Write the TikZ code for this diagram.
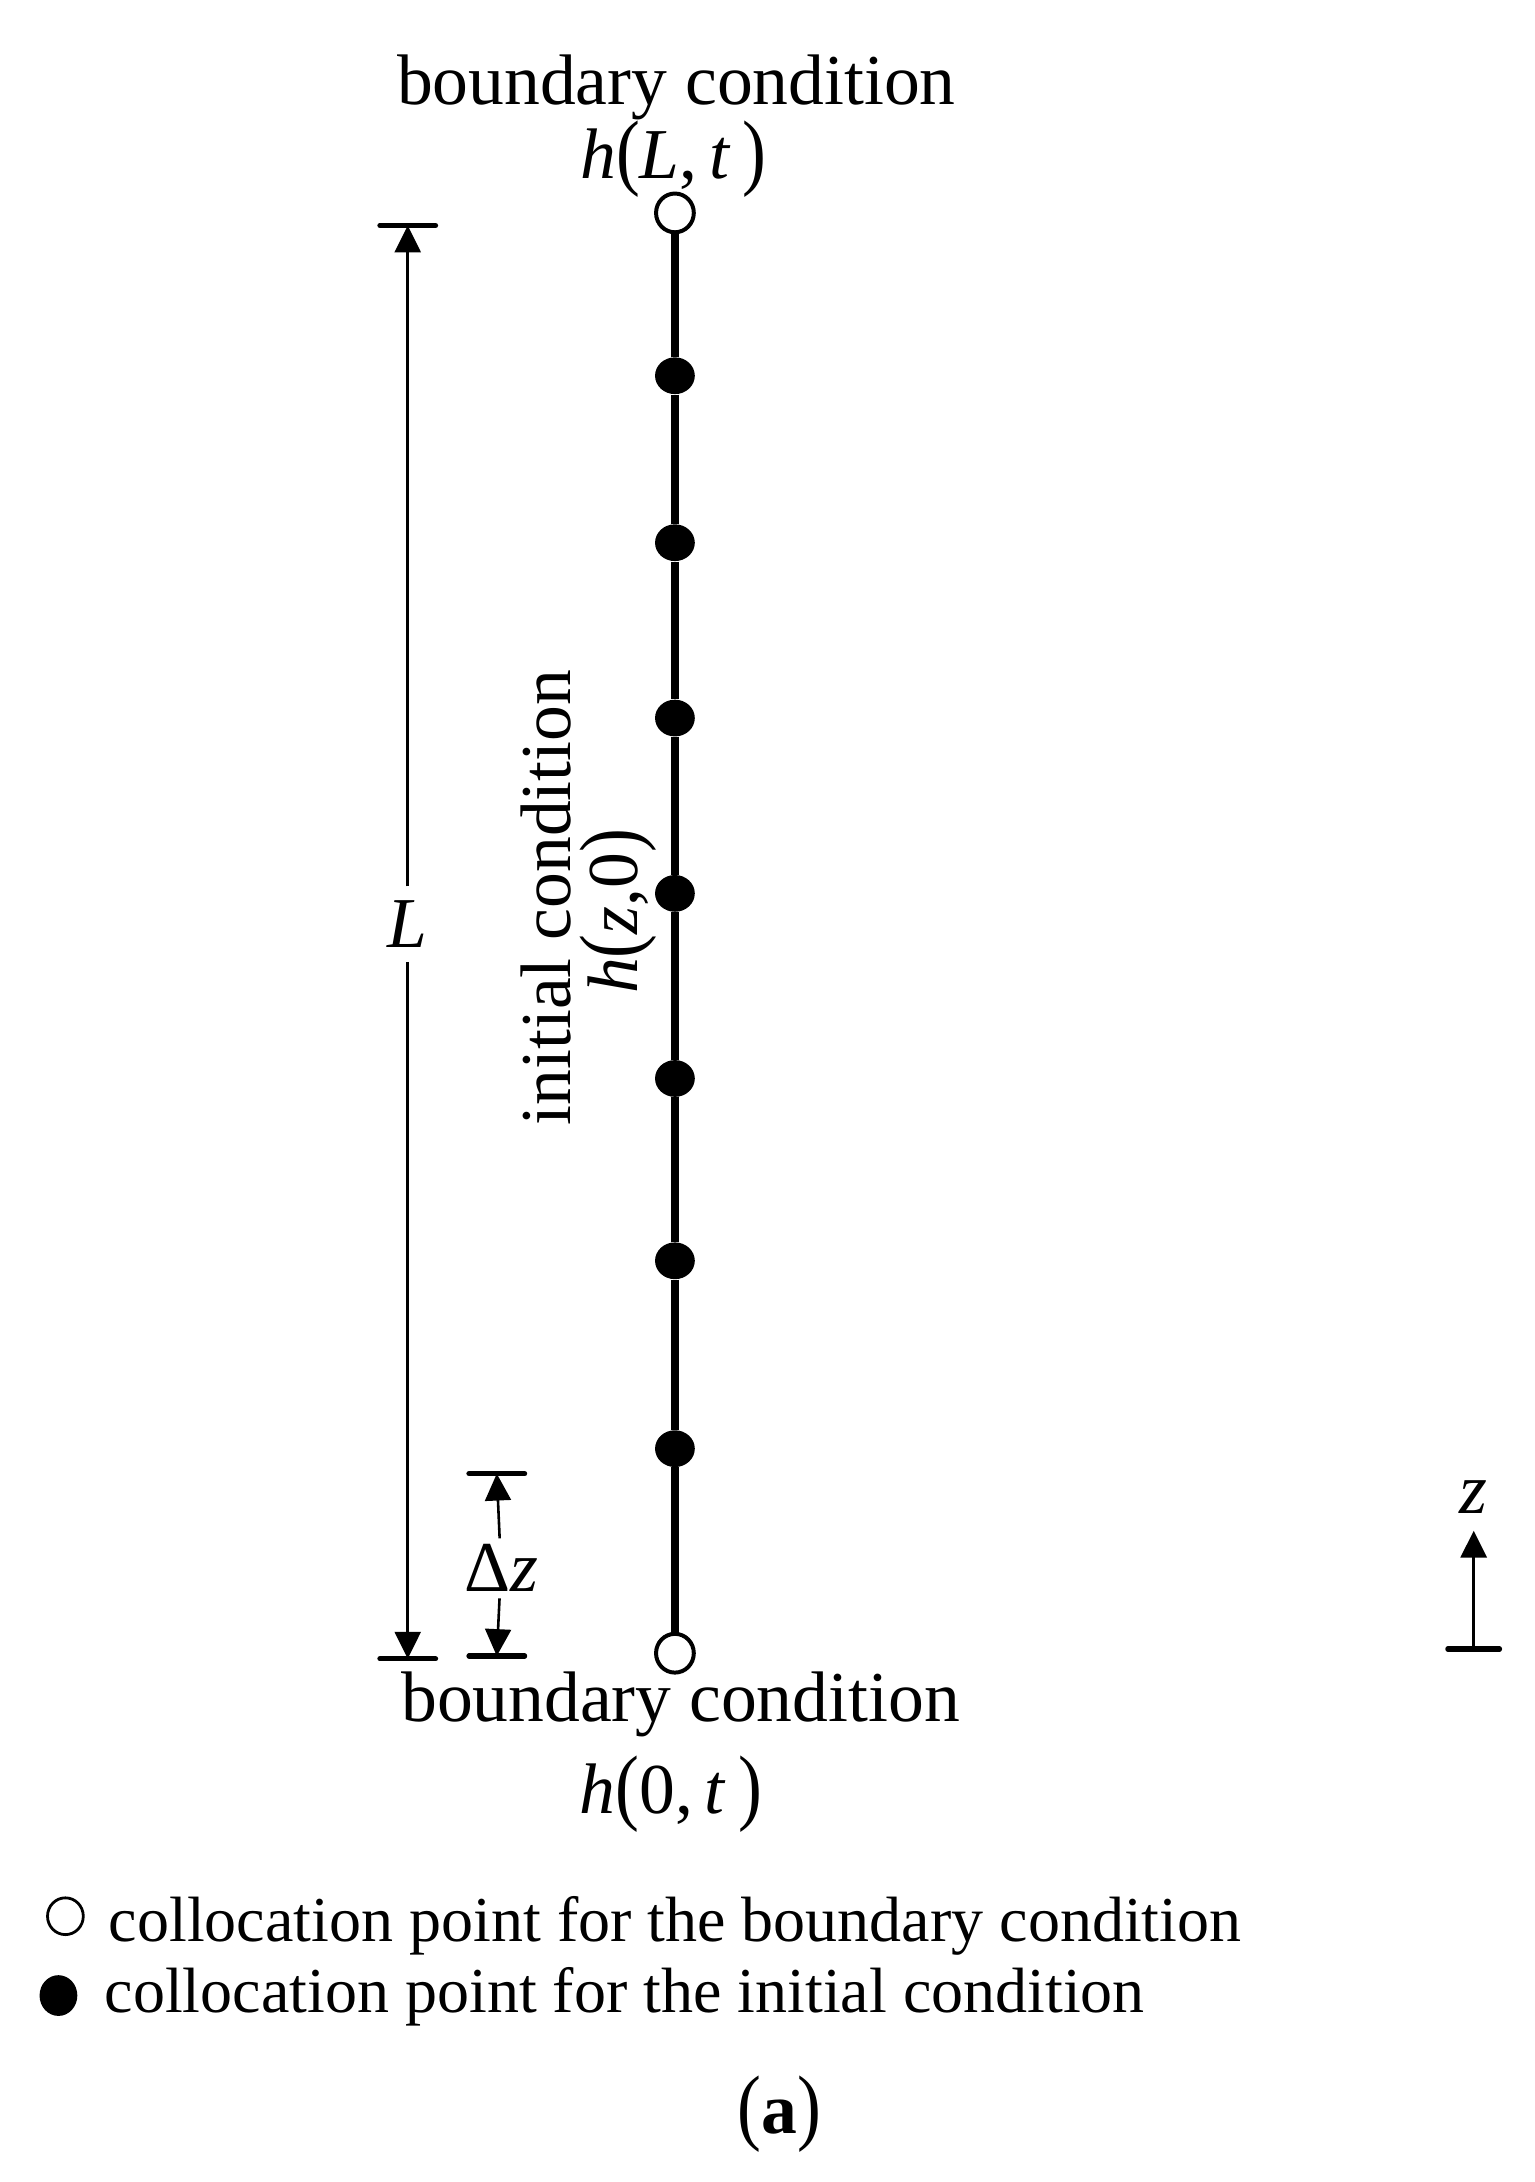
\documentclass[tikz,border=0pt]{standalone}
\usepackage{fontspec}
\setmainfont{Liberation Serif}
\usepackage{graphicx}
\usetikzlibrary{arrows.meta,shapes.geometric}
\newcommand\myLP{\raisebox{-0.02em}{\scalebox{1}[1.18]{(}}}
\newcommand\myRP{\raisebox{-0.02em}{\scalebox{1}[1.18]{)}}}
\begin{document}
\begin{tikzpicture}[x=0.7pt,y=-0.7pt,
  lab/.style={font=\fontsize{36}{40}\selectfont, inner sep=0pt},
  leg/.style={font=\fontsize{32.2}{38}\selectfont, inner sep=0pt},
  opendot/.style={ellipse, draw, line width=2pt, fill=white, minimum width=19pt, minimum height=19.5pt, inner sep=0pt},
  filldot/.style={ellipse, fill=black, minimum width=20pt, minimum height=18.5pt, inner sep=0pt},
  mainline/.style={line width=4pt},
  dimline/.style={line width=1.3pt, -{Triangle[length=13.5pt,width=13pt]}},
  barline/.style={line width=2.6pt, line cap=round},
  legopen/.style={ellipse, draw, line width=1.4pt, minimum width=18pt, minimum height=18.5pt, inner sep=0pt},
  legfill/.style={ellipse, fill=black, minimum width=19pt, minimum height=20.5pt, inner sep=0pt}]
\useasboundingbox (0,0) rectangle (1103,1568);
% top labels
\node[lab, anchor=base] (btop) at (486,75) {boundary condition};
\node[lab, anchor=base] (hLt) at (484,128) {\textit{h}\myLP\textit{L},\,\textit{t}\,\myRP};
% points
\node[opendot] (c0) at (485,153) {};
\node[filldot] (d1) at (485,270) {};
\node[filldot] (d2) at (485,390) {};
\node[filldot] (d3) at (485,516) {};
\node[filldot] (d4) at (485,642) {};
\node[filldot] (d5) at (485,775) {};
\node[filldot] (d6) at (485,906) {};
\node[filldot] (d7) at (485,1041) {};
\node[opendot] (c8) at (485,1188) {};
\draw[mainline] (c0) -- (d1);
\draw[mainline] (d1) -- (d2);
\draw[mainline] (d2) -- (d3);
\draw[mainline] (d3) -- (d4);
\draw[mainline] (d4) -- (d5);
\draw[mainline] (d5) -- (d6);
\draw[mainline] (d6) -- (d7);
\draw[mainline] (d7) -- (c8);
% rotated labels
\node[lab, rotate=90, anchor=base] (ic) at (410,645) {initial condition};
\node[lab, rotate=90, anchor=base] (hz0) at (458,655) {\textit{h}\myLP\textit{z},0\myRP};
% L dimension
\coordinate (Ltop) at (293,162);
\coordinate (Lbot) at (293,1192);
\draw[barline] ([xshift=-14pt]Ltop) -- ([xshift=14pt]Ltop);
\draw[barline] ([xshift=-14pt]Lbot) -- ([xshift=14pt]Lbot);
\node[lab, inner sep=7pt] (Llab) at (293,664) {\textit{L}};
\draw[dimline] (Llab) -- (Ltop);
\draw[dimline] (Llab) -- (Lbot);
% Delta z dimension
\coordinate (Dtop) at (357,1059);
\coordinate (Dbot) at (357,1190);
\draw[barline] ([xshift=-14pt]Dtop) -- ([xshift=14pt]Dtop);
\draw[barline] ([xshift=-14pt]Dbot) -- ([xshift=14pt]Dbot);
\node[lab, inner sep=3pt] (Dlab) at (360,1127) {Δ\textit{z}};
\draw[dimline] (Dlab) -- (Dtop);
\draw[dimline] (Dlab) -- (Dbot);
% z axis
\coordinate (zb) at (1059,1185);
\coordinate (zt) at (1059,1100);
\draw[barline] ([xshift=-13pt]zb) -- ([xshift=13pt]zb);
\draw[dimline, line width=1.8pt] (zb) -- (zt);
\node[lab] (zlab) at (1059,1076) {\textit{z}};
% bottom labels
\node[lab, anchor=base] (bbot) at (489,1237) {boundary condition};
\node[lab, anchor=base] (h0t) at (482,1303) {\textit{h}\myLP 0,\,\textit{t}\,\myRP};
% legend
\node[legopen] (s1) at (47,1377) {};
\node[leg, anchor=base west] (leg1) at (78,1395) {collocation point for the boundary condition};
\node[legfill] (s2) at (42,1434) {};
\node[leg, anchor=base west] (leg2) at (75,1446) {collocation point for the initial condition};
% caption
\node[lab, anchor=base] (cap) at (560,1533) {\myLP\textbf{a}\myRP};
\end{tikzpicture}
\end{document}
